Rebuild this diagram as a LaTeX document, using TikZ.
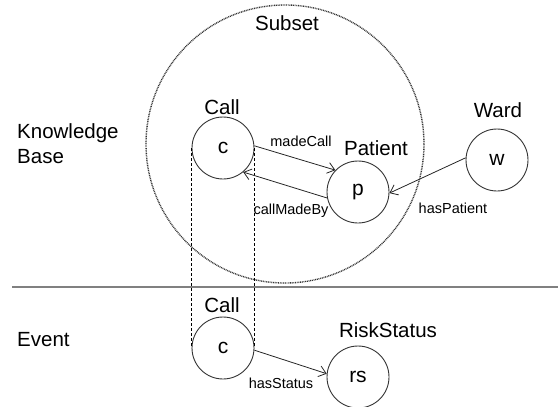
\documentclass[tikz,border=0pt]{standalone}
\usepackage{fontspec}
\setmainfont{Liberation Sans}
\usetikzlibrary{arrows.meta}
\tikzset{
  entity/.style={circle, draw=black!80, line width=0.9pt, fill=white,
    minimum size=62pt, inner sep=0pt, font=\fontsize{21}{25}\selectfont},
  classlabel/.style={font=\fontsize{20.5}{25}\selectfont, inner sep=0pt},
  rellabel/.style={font=\fontsize{14.5}{17}\selectfont, inner sep=0pt},
  rel/.style={draw=black!85, line width=0.8pt, -{Straight Barb[length=7pt,width=11pt,line width=0.8pt]}},
  subsetring/.style={draw=black!80, line width=1.4pt, dash pattern=on 0.9pt off 0.8pt},
  mapline/.style={draw=black, line width=0.7pt, dash pattern=on 3pt off 2pt},
  divider/.style={draw=black!50, line width=2pt}
}
\begin{document}
\begin{tikzpicture}[x=1pt, y=-1pt]
  \useasboundingbox (0,0) rectangle (558,407);

  % subset boundary
  \draw[subsetring] (285,144) circle (139);

  % split between knowledge base and event
  \coordinate (divL) at (12,287);
  \coordinate (divR) at (558,287);
  \draw[divider] (divL) -- (divR);

  % row captions
  \node[classlabel, anchor=west, align=left] (kb) at (17,144) {Knowledge\\Base};
  \node[classlabel, anchor=west] (ev) at (17,340) {Event};
  \node[classlabel] (subset) at (287,23) {Subset};

  % entities
  \node[entity] (c) at (223,148) {c};
  \node[entity] (p) at (358,192) {p};
  \node[entity] (w) at (497,160) {w};
  \node[entity] (c2) at (223,348) {c};
  \node[entity] (rs) at (358,377) {rs};

  % class names
  \node[classlabel] (callT) at (222,107) {Call};
  \node[classlabel] (patT) at (376,148) {Patient};
  \node[classlabel] (wardT) at (498,110) {Ward};
  \node[classlabel] (call2T) at (222,305) {Call};
  \node[classlabel] (riskT) at (388,330) {RiskStatus};

  % same call in both layers
  \draw[mapline] (c.west) -- (c2.west);
  \draw[mapline] (c.east) -- (c2.east);

  % relations
  \draw[rel] (c.4) -- (p.136);
  \draw[rel] (p.191) -- (c.310);
  \draw[rel] (w.176) -- (p.358);
  \draw[rel] (c2.356) -- (rs.174);

  \node[rellabel] (mc) at (301,141) {madeCall};
  \node[rellabel] (cmb) at (291,211) {callMadeBy};
  \node[rellabel] (hp) at (453,208) {hasPatient};
  \node[rellabel] (hs) at (281,383) {hasStatus};
\end{tikzpicture}
\end{document}
